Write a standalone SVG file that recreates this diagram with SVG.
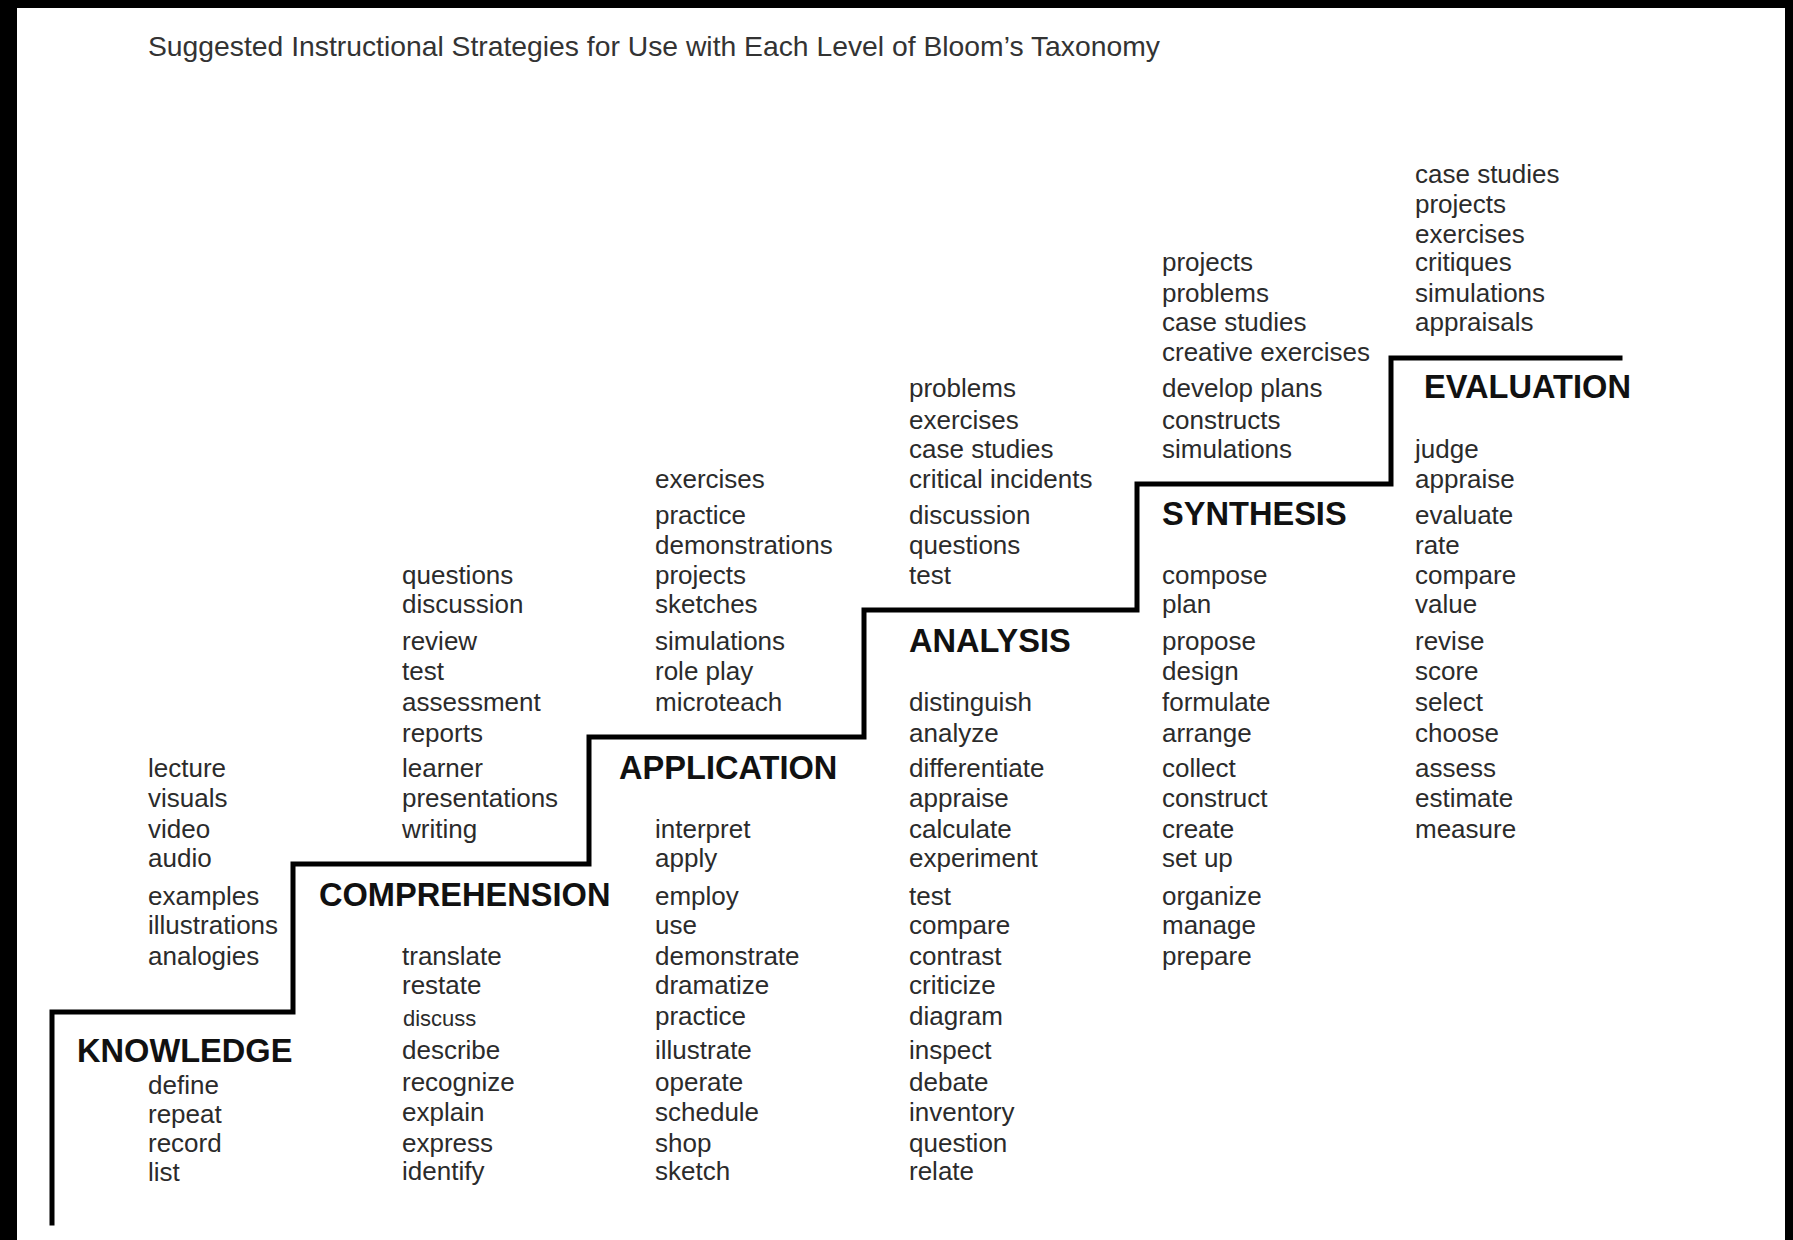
<svg xmlns="http://www.w3.org/2000/svg" width="1793" height="1240" viewBox="0 0 1793 1240">
<style>
  .t { font-family: "Liberation Sans", Arial, sans-serif; font-size: 26px; fill: #2b2b2b; }
  .s { font-family: "Liberation Sans", Arial, sans-serif; font-size: 22px; fill: #2b2b2b; }
  .h { font-family: "Liberation Sans", Arial, sans-serif; font-size: 32.6px; font-weight: bold; fill: #111; }
  .title { font-family: "Liberation Sans", Arial, sans-serif; font-size: 28.3px; fill: #333; }
  .stair { fill: none; stroke: #000; stroke-width: 5; stroke-linejoin: miter; stroke-linecap: square; }
</style>
<rect x="0" y="0" width="1793" height="1240" fill="#000"/>
<rect x="17" y="8" width="1768" height="1232" fill="#fff"/>
<text class="title" x="148" y="56">Suggested Instructional Strategies for Use with Each Level of Bloom’s Taxonomy</text>

<g id="connectors">
  <path class="stair" d="M52,1223 V1012 H293 V864 H589 V737 H864 V610 H1137 V484 H1391 V358 H1620"/>
</g>

<g id="knowledge">
  <text class="t" x="148" y="777">lecture</text>
  <text class="t" x="148" y="807">visuals</text>
  <text class="t" x="148" y="838">video</text>
  <text class="t" x="148" y="867">audio</text>
  <text class="t" x="148" y="905">examples</text>
  <text class="t" x="148" y="934">illustrations</text>
  <text class="t" x="148" y="965">analogies</text>
  <text class="h" x="77" y="1062">KNOWLEDGE</text>
  <text class="t" x="148" y="1094">define</text>
  <text class="t" x="148" y="1123">repeat</text>
  <text class="t" x="148" y="1152">record</text>
  <text class="t" x="148" y="1181">list</text>
</g>

<g id="comprehension">
  <text class="t" x="402" y="584">questions</text>
  <text class="t" x="402" y="613">discussion</text>
  <text class="t" x="402" y="650">review</text>
  <text class="t" x="402" y="680">test</text>
  <text class="t" x="402" y="711">assessment</text>
  <text class="t" x="402" y="742">reports</text>
  <text class="t" x="402" y="777">learner</text>
  <text class="t" x="402" y="807">presentations</text>
  <text class="t" x="402" y="838">writing</text>
  <text class="h" x="319" y="906">COMPREHENSION</text>
  <text class="t" x="402" y="965">translate</text>
  <text class="t" x="402" y="994">restate</text>
  <text class="s" x="403" y="1026">discuss</text>
  <text class="t" x="402" y="1059">describe</text>
  <text class="t" x="402" y="1091">recognize</text>
  <text class="t" x="402" y="1121">explain</text>
  <text class="t" x="402" y="1152">express</text>
  <text class="t" x="402" y="1180">identify</text>
</g>

<g id="application">
  <text class="t" x="655" y="488">exercises</text>
  <text class="t" x="655" y="524">practice</text>
  <text class="t" x="655" y="554">demonstrations</text>
  <text class="t" x="655" y="584">projects</text>
  <text class="t" x="655" y="613">sketches</text>
  <text class="t" x="655" y="650">simulations</text>
  <text class="t" x="655" y="680">role play</text>
  <text class="t" x="655" y="711">microteach</text>
  <text class="h" x="619" y="779">APPLICATION</text>
  <text class="t" x="655" y="838">interpret</text>
  <text class="t" x="655" y="867">apply</text>
  <text class="t" x="655" y="905">employ</text>
  <text class="t" x="655" y="934">use</text>
  <text class="t" x="655" y="965">demonstrate</text>
  <text class="t" x="655" y="994">dramatize</text>
  <text class="t" x="655" y="1025">practice</text>
  <text class="t" x="655" y="1059">illustrate</text>
  <text class="t" x="655" y="1091">operate</text>
  <text class="t" x="655" y="1121">schedule</text>
  <text class="t" x="655" y="1152">shop</text>
  <text class="t" x="655" y="1180">sketch</text>
</g>

<g id="analysis">
  <text class="t" x="909" y="397">problems</text>
  <text class="t" x="909" y="429">exercises</text>
  <text class="t" x="909" y="458">case studies</text>
  <text class="t" x="909" y="488">critical incidents</text>
  <text class="t" x="909" y="524">discussion</text>
  <text class="t" x="909" y="554">questions</text>
  <text class="t" x="909" y="584">test</text>
  <text class="h" x="909" y="652">ANALYSIS</text>
  <text class="t" x="909" y="711">distinguish</text>
  <text class="t" x="909" y="742">analyze</text>
  <text class="t" x="909" y="777">differentiate</text>
  <text class="t" x="909" y="807">appraise</text>
  <text class="t" x="909" y="838">calculate</text>
  <text class="t" x="909" y="867">experiment</text>
  <text class="t" x="909" y="905">test</text>
  <text class="t" x="909" y="934">compare</text>
  <text class="t" x="909" y="965">contrast</text>
  <text class="t" x="909" y="994">criticize</text>
  <text class="t" x="909" y="1025">diagram</text>
  <text class="t" x="909" y="1059">inspect</text>
  <text class="t" x="909" y="1091">debate</text>
  <text class="t" x="909" y="1121">inventory</text>
  <text class="t" x="909" y="1152">question</text>
  <text class="t" x="909" y="1180">relate</text>
</g>

<g id="synthesis">
  <text class="t" x="1162" y="271">projects</text>
  <text class="t" x="1162" y="302">problems</text>
  <text class="t" x="1162" y="331">case studies</text>
  <text class="t" x="1162" y="361">creative exercises</text>
  <text class="t" x="1162" y="397">develop plans</text>
  <text class="t" x="1162" y="429">constructs</text>
  <text class="t" x="1162" y="458">simulations</text>
  <text class="h" x="1162" y="525">SYNTHESIS</text>
  <text class="t" x="1162" y="584">compose</text>
  <text class="t" x="1162" y="613">plan</text>
  <text class="t" x="1162" y="650">propose</text>
  <text class="t" x="1162" y="680">design</text>
  <text class="t" x="1162" y="711">formulate</text>
  <text class="t" x="1162" y="742">arrange</text>
  <text class="t" x="1162" y="777">collect</text>
  <text class="t" x="1162" y="807">construct</text>
  <text class="t" x="1162" y="838">create</text>
  <text class="t" x="1162" y="867">set up</text>
  <text class="t" x="1162" y="905">organize</text>
  <text class="t" x="1162" y="934">manage</text>
  <text class="t" x="1162" y="965">prepare</text>
</g>

<g id="evaluation">
  <text class="t" x="1415" y="183">case studies</text>
  <text class="t" x="1415" y="213">projects</text>
  <text class="t" x="1415" y="243">exercises</text>
  <text class="t" x="1415" y="271">critiques</text>
  <text class="t" x="1415" y="302">simulations</text>
  <text class="t" x="1415" y="331">appraisals</text>
  <text class="h" x="1424" y="398">EVALUATION</text>
  <text class="t" x="1415" y="458">judge</text>
  <text class="t" x="1415" y="488">appraise</text>
  <text class="t" x="1415" y="524">evaluate</text>
  <text class="t" x="1415" y="554">rate</text>
  <text class="t" x="1415" y="584">compare</text>
  <text class="t" x="1415" y="613">value</text>
  <text class="t" x="1415" y="650">revise</text>
  <text class="t" x="1415" y="680">score</text>
  <text class="t" x="1415" y="711">select</text>
  <text class="t" x="1415" y="742">choose</text>
  <text class="t" x="1415" y="777">assess</text>
  <text class="t" x="1415" y="807">estimate</text>
  <text class="t" x="1415" y="838">measure</text>
</g>
</svg>
